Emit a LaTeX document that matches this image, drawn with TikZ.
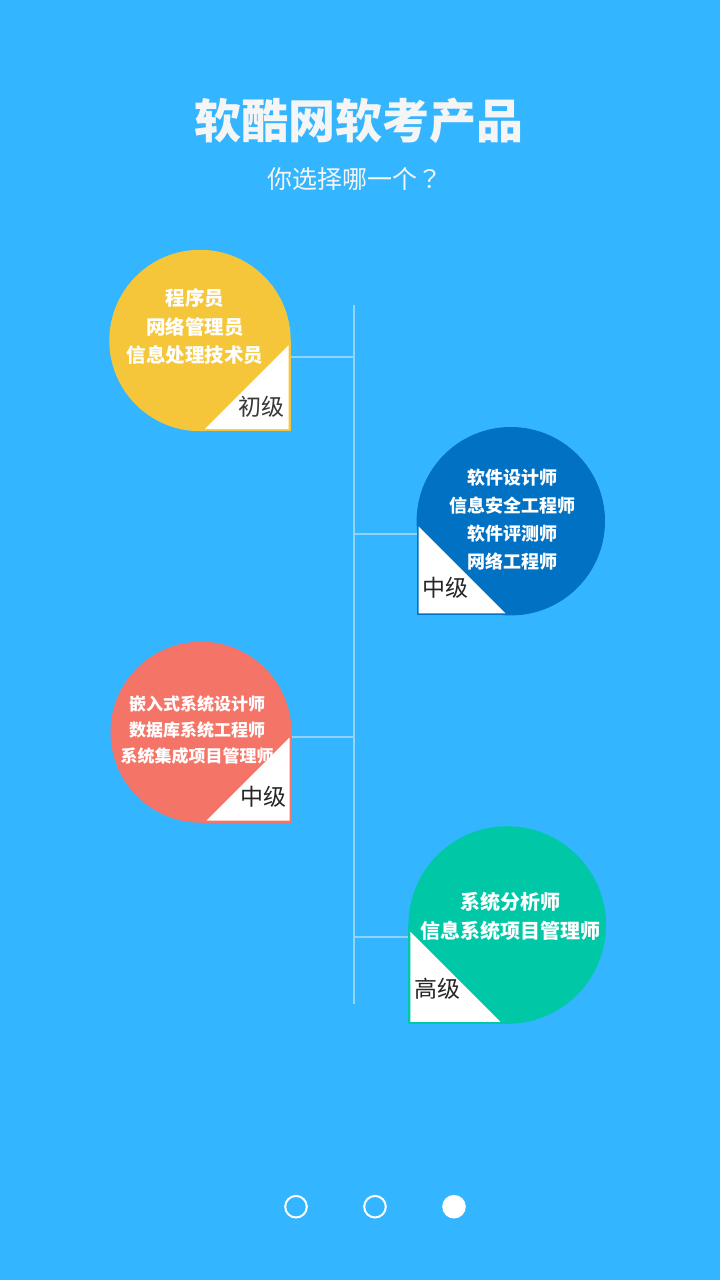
\documentclass[tikz,border=0pt]{standalone}
\usepackage{fontspec}
\newfontfamily\cjk{Noto Sans CJK SC}
\newfontfamily\cjktc{Noto Sans CJK TC}
\definecolor{bg}{HTML}{33B5FF}
\definecolor{vline}{HTML}{8ED4FF}
\definecolor{cyel}{HTML}{F5C63A}
\definecolor{cblu}{HTML}{0071C3}
\definecolor{csal}{HTML}{F47468}
\definecolor{ctea}{HTML}{00C8A6}
\definecolor{ttl}{HTML}{F5F5F5}
\tikzset{
  conn/.style={draw=vline, line width=1.8pt},
  lvl/.style={inner sep=0pt, font=\cjk\fontsize{23}{26}\selectfont, text=black!85},
  item/.style={inner sep=0pt, align=center, text=white},
  dotopen/.style={draw=white, line width=2pt},
  dotfull/.style={fill=white},
}
\begin{document}
\begin{tikzpicture}[x=1pt,y=-1pt]
\fill[bg] (0,0) rectangle (720,1280);
\useasboundingbox (0,0) rectangle (720,1280);

% title
\node[inner sep=0pt, text=ttl, font=\cjk\bfseries\fontsize{47}{52}\selectfont] (title) at (359,120.5) {软酷网软考产品};
\node[inner sep=0pt, anchor=west, text=ttl, font=\cjk\fontsize{25}{28}\selectfont] (sub) at (267,179.5) {你选择哪一个{\cjktc ？}};

% timeline
\coordinate (vt) at (354,305);
\coordinate (vb) at (354,1004);
\draw[conn] (vt) -- (vb);
\coordinate (c1) at (290.7,357.3); \coordinate (v1) at (354,357.3);
\coordinate (c2) at (416.6,533.7); \coordinate (v2) at (354,533.7);
\coordinate (c3) at (291.5,736.7); \coordinate (v3) at (354,736.7);
\coordinate (c4) at (408.4,937.3); \coordinate (v4) at (354,937.3);
\draw[conn] (c1) -- (v1);
\draw[conn] (v2) -- (c2);
\draw[conn] (c3) -- (v3);
\draw[conn] (v4) -- (c4);

% yellow badge
\fill[cyel] (200,340.5) circle (90.7);
\fill[cyel] (200,340.5) rectangle (290.7,431.2);
\fill[white] (288.7,345.2) -- (204.7,429.2) -- (288.7,429.2) -- cycle;
\node[item, font=\cjk\bfseries\fontsize{19.5}{28.5}\selectfont] (t1) at (195,327) {程序员\\网络管理员\\信息处理技术员};
\node[lvl, text=black!78] (l1) at (261.7,407) {初级};

% blue badge
\fill[cblu] (510.8,521.2) circle (94.2);
\fill[cblu] (416.6,521.2) rectangle (510.8,615.4);
\fill[white] (418.6,526.4) -- (418.6,613.4) -- (505.6,613.4) -- cycle;
\node[item, font=\cjk\bfseries\fontsize{18}{28}\selectfont] (t2) at (512,520) {软件设计师\\信息安全工程师\\软件评测师\\网络工程师};
\node[lvl] (l2) at (445.5,588) {中级};

% salmon badge
\fill[csal] (201,732.2) circle (90.5);
\fill[csal] (201,732.2) rectangle (291.5,822.7);
\fill[white] (289.5,737.7) -- (206.5,820.7) -- (289.5,820.7) -- cycle;
\node[item, font=\cjk\bfseries\fontsize{17}{26}\selectfont] (t3) at (197,730) {嵌入式系统设计师\\数据库系统工程师\\系统集成项目管理师};
\node[lvl] (l3) at (263.3,797) {中级};

% teal badge
\fill[ctea] (507.2,925) circle (98.8);
\fill[ctea] (408.4,925) rectangle (507.2,1023.8);
\fill[white] (410.4,931.8) -- (410.4,1021.8) -- (500.4,1021.8) -- cycle;
\node[item, font=\cjk\bfseries\fontsize{20}{29}\selectfont] (t4) at (510,916.5) {系统分析师\\信息系统项目管理师};
\node[lvl] (l4) at (437,989) {高级};

% page dots
\draw[dotopen] (296,1206.7) circle (10.8) node (d1) {};
\draw[dotopen] (375,1206.7) circle (10.8) node (d2) {};
\fill[dotfull] (454,1206.7) circle (11.8) node (d3) {};
\end{tikzpicture}
\end{document}
